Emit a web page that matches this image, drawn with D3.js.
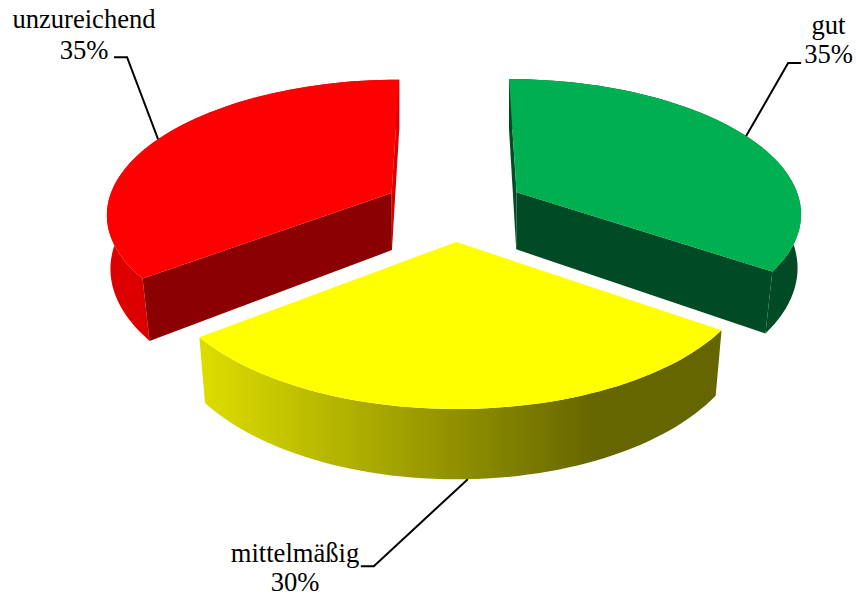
<!DOCTYPE html>
<html><head><meta charset="utf-8">
<script src="https://cdn.jsdelivr.net/npm/d3@7/dist/d3.min.js"></script>
<style>html,body{margin:0;padding:0;background:#fff}svg{display:block}text{font-family:"Liberation Serif",serif;font-size:26.6px;fill:#000}</style>
</head><body><svg id="c" width="856" height="597"></svg>
<script>
const categories = ["gut", "mittelmäßig", "unzureichend"];
const percents = [34.6, 30, 35.4];
const percentLabels = ["35%", "30%", "35%"];
const topColors = ["#00B050", "#FFFF00", "#FF0000"];
const cutColors = ["#004B25", "none", "#8B0000"];
const backColors = ["#004B25", "none", "#DD0000"];
const wallColors = ["#004B25", "url(#yellowWall)", "#DD0000"];

const svg = d3.select("#c");
const explode = 0.25, k = 0.14;
const cx = 454.5, cy = 207.5, a = 285, b = 133, depth = 58;

// perspective projection of the pie: X right, Y toward viewer, Z down
function proj(X, Y, Z) {
  const w = 1 - k * Y;
  const shrink = Math.max(0, Math.min(0.022, 0.009 + 0.028 * Y));
  return [cx + a * X * (1 - shrink * Z) / w, cy + (b * Y + depth * Z) / w];
}
const line = d3.line();
const slices = d3.pie().sort(null)(percents);
const rim = (t, r, o) => [r * Math.sin(t) + o[0], -r * Math.cos(t) + o[1]];
function arcPts(s, Z, o) {
  return d3.range(0, 61).map(i => {
    const p = rim(s.startAngle + (s.endAngle - s.startAngle) * i / 60, 1, o);
    return proj(p[0], p[1], Z);
  });
}

const defs = svg.append("defs");
const grad = defs.append("linearGradient").attr("id", "yellowWall").attr("gradientUnits", "userSpaceOnUse")
  .attr("x1", 204).attr("x2", 595).attr("y1", 0).attr("y2", 0);
grad.append("stop").attr("offset", 0).attr("stop-color", "#DCDC00");
grad.append("stop").attr("offset", 1).attr("stop-color", "#666600");

[0, 2, 1].forEach(i => {
  const s = slices[i], mid = (s.startAngle + s.endAngle) / 2;
  const o = [explode * Math.sin(mid), -explode * Math.cos(mid)];
  const g = svg.append("g").attr("class", "slice");
  const apexT = proj(o[0], o[1], 0), apexB = proj(o[0], o[1], 1);
  const topArc = arcPts(s, 0, o), botArc = arcPts(s, 1, o);
  // far cut face (only a sliver shows), outer wall, near cut face, top
  const farEnd = i === 0 ? 0 : 60, nearEnd = i === 0 ? 60 : 0;
  if (i !== 1) {
    g.append("path").attr("d", line([apexT, topArc[farEnd], botArc[farEnd], apexB]) + "Z").attr("fill", backColors[i]);
  }
  g.append("path").attr("d", line(topArc.concat(botArc.slice().reverse())) + "Z").attr("fill", wallColors[i]);
  if (i !== 1) {
    g.append("path").attr("d", line([apexT, topArc[nearEnd], botArc[nearEnd], apexB]) + "Z").attr("fill", cutColors[i]);
  }
  g.append("path").attr("d", line([apexT].concat(topArc)) + "Z").attr("fill", topColors[i]);
});

// leaders and labels
const leaderCfg = [
  {dt: 0, Z: 0, ex: 42, ey: -73, tx: 13, lx: 828.5, ly: [34, 63]},
  {dt: -0.008, Z: 1, ex: -94, ey: 87, tx: -13, lx: 295, ly: [562, 591]},
  {dt: 0, Z: 0, ex: -31, ey: -82, tx: -13, lx: 84, ly: [28, 59]}
];
slices.forEach((s, i) => {
  const c = leaderCfg[i], mid = (s.startAngle + s.endAngle) / 2;
  const o = [explode * Math.sin(mid), -explode * Math.cos(mid)];
  const r = rim(mid + c.dt, 1, o), A = proj(r[0], r[1], c.Z);
  const E = [A[0] + c.ex, A[1] + c.ey];
  svg.append("path").attr("d", line([A, E, [E[0] + c.tx, E[1]]]))
    .attr("fill", "none").attr("stroke", "#000").attr("stroke-width", 2);
  const t = svg.append("g").attr("text-anchor", "middle");
  t.append("text").attr("x", c.lx).attr("y", c.ly[0]).text(categories[i]);
  t.append("text").attr("x", c.lx).attr("y", c.ly[1]).text(percentLabels[i]);
});
</script></body></html>
